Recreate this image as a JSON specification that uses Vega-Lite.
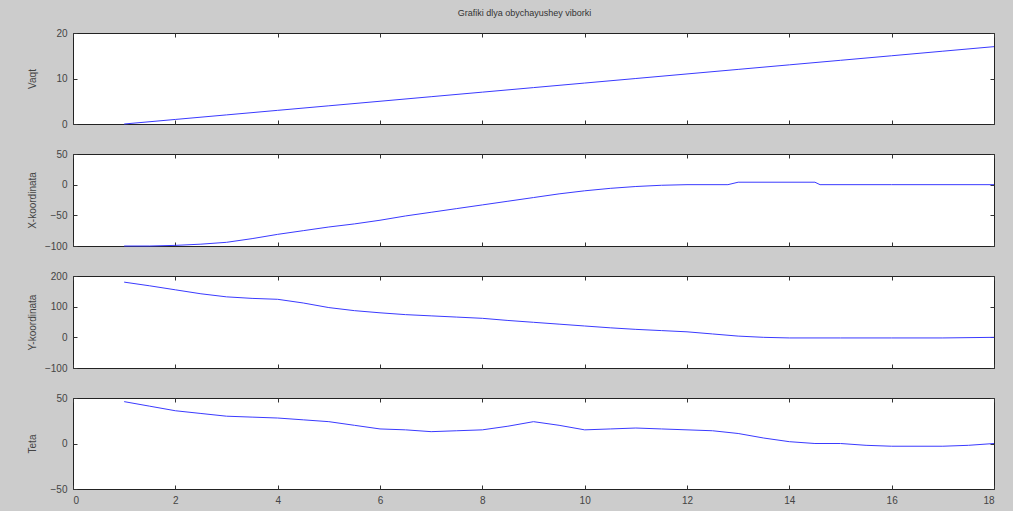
{
  "$schema": "https://vega.github.io/schema/vega-lite/v6.json",
  "background": "#cccccc",
  "padding": {"left": 26, "top": 8, "right": 20, "bottom": 5},
  "title": {"text": "Grafiki dlya obychayushey viborki", "fontSize": 9, "font": "Liberation Sans", "fontWeight": "normal", "color": "#333333", "offset": 10, "anchor": "middle"},
  "datasets": {
    "v": [
      {"x": 1, "v": 0}, {"x": 2, "v": 1}, {"x": 3, "v": 2}, {"x": 4, "v": 3}, {"x": 5, "v": 4}, {"x": 6, "v": 5},
      {"x": 7, "v": 6}, {"x": 8, "v": 7}, {"x": 9, "v": 8}, {"x": 10, "v": 9}, {"x": 11, "v": 10}, {"x": 12, "v": 11},
      {"x": 13, "v": 12}, {"x": 14, "v": 13}, {"x": 15, "v": 14}, {"x": 16, "v": 15}, {"x": 17, "v": 16}, {"x": 18, "v": 17}
    ],
    "xk": [
      {"x": 1, "v": -100}, {"x": 1.5, "v": -100}, {"x": 2, "v": -99}, {"x": 2.5, "v": -97}, {"x": 3, "v": -94},
      {"x": 3.5, "v": -88}, {"x": 4, "v": -81}, {"x": 4.5, "v": -75}, {"x": 5, "v": -69}, {"x": 5.5, "v": -64},
      {"x": 6, "v": -58}, {"x": 6.5, "v": -51}, {"x": 7, "v": -45}, {"x": 7.5, "v": -39}, {"x": 8, "v": -33},
      {"x": 8.5, "v": -27}, {"x": 9, "v": -21}, {"x": 9.5, "v": -15}, {"x": 10, "v": -10}, {"x": 10.5, "v": -6},
      {"x": 11, "v": -3}, {"x": 11.5, "v": -1}, {"x": 12, "v": 0}, {"x": 12.8, "v": 0}, {"x": 13, "v": 4},
      {"x": 14.5, "v": 4}, {"x": 14.6, "v": 0}, {"x": 16, "v": 0}, {"x": 18, "v": 0}
    ],
    "yk": [
      {"x": 1, "v": 180}, {"x": 1.5, "v": 168}, {"x": 2, "v": 155}, {"x": 2.5, "v": 142}, {"x": 3, "v": 132},
      {"x": 3.5, "v": 127}, {"x": 4, "v": 124}, {"x": 4.5, "v": 112}, {"x": 5, "v": 97}, {"x": 5.5, "v": 87},
      {"x": 6, "v": 80}, {"x": 6.5, "v": 74}, {"x": 7, "v": 70}, {"x": 7.5, "v": 66}, {"x": 8, "v": 62},
      {"x": 8.5, "v": 55}, {"x": 9, "v": 49}, {"x": 9.5, "v": 43}, {"x": 10, "v": 37}, {"x": 10.5, "v": 31},
      {"x": 11, "v": 26}, {"x": 11.5, "v": 22}, {"x": 12, "v": 18}, {"x": 12.5, "v": 11}, {"x": 13, "v": 4},
      {"x": 13.5, "v": 0}, {"x": 14, "v": -2}, {"x": 15, "v": -2}, {"x": 16, "v": -2}, {"x": 17, "v": -2}, {"x": 18, "v": 0}
    ],
    "t": [
      {"x": 1, "v": 46}, {"x": 1.5, "v": 41}, {"x": 2, "v": 36}, {"x": 2.5, "v": 33}, {"x": 3, "v": 30},
      {"x": 3.5, "v": 29}, {"x": 4, "v": 28}, {"x": 4.5, "v": 26}, {"x": 5, "v": 24}, {"x": 5.5, "v": 20},
      {"x": 6, "v": 16}, {"x": 6.5, "v": 15}, {"x": 7, "v": 13}, {"x": 7.5, "v": 14}, {"x": 8, "v": 15},
      {"x": 8.5, "v": 19}, {"x": 9, "v": 24}, {"x": 9.5, "v": 20}, {"x": 10, "v": 15}, {"x": 10.5, "v": 16},
      {"x": 11, "v": 17}, {"x": 11.5, "v": 16}, {"x": 12, "v": 15}, {"x": 12.5, "v": 14}, {"x": 13, "v": 11},
      {"x": 13.5, "v": 6}, {"x": 14, "v": 2}, {"x": 14.5, "v": 0}, {"x": 15, "v": 0}, {"x": 15.5, "v": -2},
      {"x": 16, "v": -3}, {"x": 17, "v": -3}, {"x": 17.5, "v": -2}, {"x": 18, "v": 0}
    ]
  },
  "spacing": 18,
  "vconcat": [
    {
      "width": 921, "height": 91,
      "data": {"name": "v"},
      "resolve": {"axis": {"x": "independent", "y": "independent"}},
      "layer": [
        {"mark": {"type": "line", "color": "#3a3aff", "strokeWidth": 1},
         "encoding": {
           "x": {"field": "x", "type": "quantitative", "scale": {"domain": [0, 18], "nice": false}, "axis": {"labels": false, "title": null, "orient": "bottom", "values": [0,2,4,6,8,10,12,14,16,18]}},
           "y": {"field": "v", "type": "quantitative", "scale": {"domain": [0, 20], "nice": false}, "axis": {"title": "Vaqt", "values": [0, 10, 20], "orient": "left"}}
         }},
        {"mark": {"type": "line", "opacity": 0},
         "encoding": {
           "x": {"field": "x", "type": "quantitative", "scale": {"domain": [0, 18], "nice": false}, "axis": {"labels": false, "title": null, "orient": "top", "values": [0,2,4,6,8,10,12,14,16,18]}},
           "y": {"field": "v", "type": "quantitative", "scale": {"domain": [0, 20], "nice": false}, "axis": {"labels": false, "title": null, "orient": "right", "values": [0, 10, 20]}}
         }}
      ]
    },
    {
      "width": 921, "height": 92,
      "data": {"name": "xk"},
      "resolve": {"axis": {"x": "independent", "y": "independent"}},
      "layer": [
        {"mark": {"type": "line", "color": "#3a3aff", "strokeWidth": 1},
         "encoding": {
           "x": {"field": "x", "type": "quantitative", "scale": {"domain": [0, 18], "nice": false}, "axis": {"labels": false, "title": null, "orient": "bottom", "values": [0,2,4,6,8,10,12,14,16,18]}},
           "y": {"field": "v", "type": "quantitative", "scale": {"domain": [-100, 50], "nice": false}, "axis": {"title": "X-koordinata", "values": [-100, -50, 0, 50], "orient": "left"}}
         }},
        {"mark": {"type": "line", "opacity": 0},
         "encoding": {
           "x": {"field": "x", "type": "quantitative", "scale": {"domain": [0, 18], "nice": false}, "axis": {"labels": false, "title": null, "orient": "top", "values": [0,2,4,6,8,10,12,14,16,18]}},
           "y": {"field": "v", "type": "quantitative", "scale": {"domain": [-100, 50], "nice": false}, "axis": {"labels": false, "title": null, "orient": "right", "values": [-100, -50, 0, 50]}}
         }}
      ]
    },
    {
      "width": 921, "height": 92,
      "data": {"name": "yk"},
      "resolve": {"axis": {"x": "independent", "y": "independent"}},
      "layer": [
        {"mark": {"type": "line", "color": "#3a3aff", "strokeWidth": 1},
         "encoding": {
           "x": {"field": "x", "type": "quantitative", "scale": {"domain": [0, 18], "nice": false}, "axis": {"labels": false, "title": null, "orient": "bottom", "values": [0,2,4,6,8,10,12,14,16,18]}},
           "y": {"field": "v", "type": "quantitative", "scale": {"domain": [-100, 200], "nice": false}, "axis": {"title": "Y-koordinata", "values": [-100, 0, 100, 200], "orient": "left"}}
         }},
        {"mark": {"type": "line", "opacity": 0},
         "encoding": {
           "x": {"field": "x", "type": "quantitative", "scale": {"domain": [0, 18], "nice": false}, "axis": {"labels": false, "title": null, "orient": "top", "values": [0,2,4,6,8,10,12,14,16,18]}},
           "y": {"field": "v", "type": "quantitative", "scale": {"domain": [-100, 200], "nice": false}, "axis": {"labels": false, "title": null, "orient": "right", "values": [-100, 0, 100, 200]}}
         }}
      ]
    },
    {
      "width": 921, "height": 91,
      "data": {"name": "t"},
      "resolve": {"axis": {"x": "independent", "y": "independent"}},
      "layer": [
        {"mark": {"type": "line", "color": "#3a3aff", "strokeWidth": 1},
         "encoding": {
           "x": {"field": "x", "type": "quantitative", "scale": {"domain": [0, 18], "nice": false}, "axis": {"title": null, "orient": "bottom", "values": [0,2,4,6,8,10,12,14,16,18], "minExtent": 14, "maxExtent": 14}},
           "y": {"field": "v", "type": "quantitative", "scale": {"domain": [-50, 50], "nice": false}, "axis": {"title": "Teta", "values": [-50, 0, 50], "orient": "left"}}
         }},
        {"mark": {"type": "line", "opacity": 0},
         "encoding": {
           "x": {"field": "x", "type": "quantitative", "scale": {"domain": [0, 18], "nice": false}, "axis": {"labels": false, "title": null, "orient": "top", "values": [0,2,4,6,8,10,12,14,16,18]}},
           "y": {"field": "v", "type": "quantitative", "scale": {"domain": [-50, 50], "nice": false}, "axis": {"labels": false, "title": null, "orient": "right", "values": [-50, 0, 50]}}
         }}
      ]
    }
  ],
  "config": {
    "view": {"fill": "white", "stroke": "#222222", "strokeWidth": 1},
    "axis": {
      "grid": false, "domain": false, "tickColor": "#333333", "tickSize": -4, "labelPadding": 10,
      "labelFont": "Liberation Sans", "labelFontSize": 10, "labelColor": "#444444",
      "titleFont": "Liberation Sans", "titleFontSize": 10, "titleFontWeight": "normal", "titleColor": "#444444",
      "titlePadding": 8
    },
    "axisY": {"minExtent": 28, "maxExtent": 28},
    "axisX": {"minExtent": 0, "maxExtent": 0}
  }
}
